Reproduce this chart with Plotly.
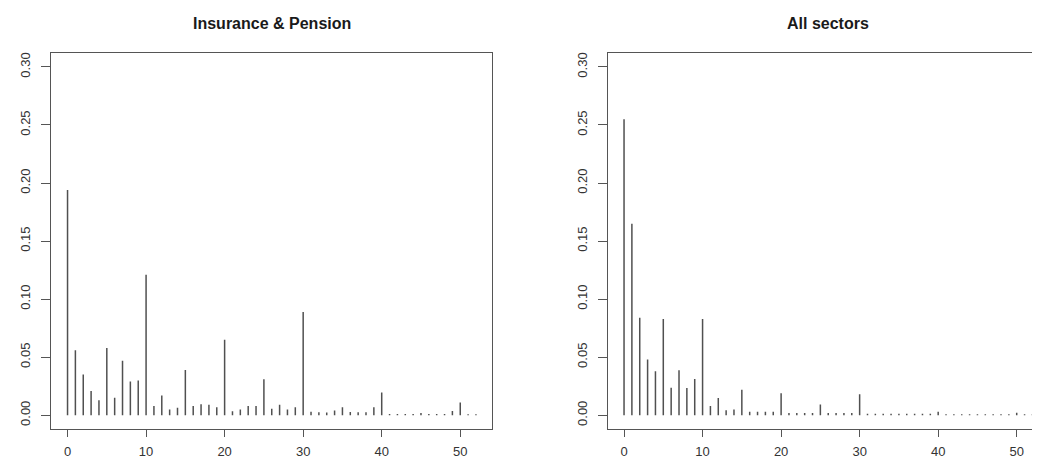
import plotly.graph_objects as go

lags = list(range(53))

insurance_pension = [
    0.194, 0.056, 0.035, 0.021, 0.013, 0.058, 0.015, 0.047, 0.029, 0.030,
    0.121, 0.008, 0.017, 0.005, 0.0065, 0.039, 0.008, 0.0095, 0.009, 0.007,
    0.065, 0.0035, 0.005, 0.008, 0.008, 0.031, 0.0055, 0.009, 0.005, 0.007,
    0.089, 0.003, 0.0026, 0.0023, 0.004, 0.007, 0.0028, 0.0026, 0.0026, 0.0068,
    0.0195, 0.001, 0.001, 0.001, 0.001, 0.002, 0.001, 0.001, 0.001, 0.0037,
    0.011, 0.0008, 0.0008,
]

all_sectors = [
    0.255, 0.165, 0.084, 0.048, 0.038, 0.083, 0.0237, 0.0387, 0.0234, 0.0313,
    0.083, 0.008, 0.0149, 0.0044, 0.005, 0.022, 0.003, 0.003, 0.003, 0.003,
    0.019, 0.002, 0.002, 0.002, 0.002, 0.0092, 0.002, 0.002, 0.002, 0.002,
    0.018, 0.0012, 0.0012, 0.0012, 0.0012, 0.0012, 0.0012, 0.0012, 0.0012, 0.0012,
    0.0031, 0.0008, 0.0008, 0.0008, 0.0008, 0.0008, 0.0008, 0.0008, 0.0008, 0.0008,
    0.0022, 0.0008, 0.0008,
]

titles = ["Insurance & Pension", "All sectors"]
x_ticks = [0, 10, 20, 30, 40, 50]
y_ticks = [0.0, 0.05, 0.10, 0.15, 0.20, 0.25, 0.30]

# page body adds an 8px margin; figure coordinates = screen - 8
OFF = 8
W, H = 1040 - 2 * OFF, 459 - OFF


def spikes(xs, ys):
    px, py = [], []
    for x, y in zip(xs, ys):
        px += [x, x, None]
        py += [0, y, None]
    return px, py


fig = go.Figure()
bar_color = "#505050"
for i, series in enumerate([insurance_pension, all_sectors]):
    px, py = spikes(lags, series)
    fig.add_trace(go.Scatter(
        x=px, y=py, mode="lines",
        line=dict(color=bar_color, width=1.5),
        xaxis="x" if i == 0 else "x2",
        yaxis="y" if i == 0 else "y2",
        hoverinfo="skip", showlegend=False,
    ))

ppx = 7.86  # pixels per lag unit
left_dom = [(51.2 - OFF) / W, (492.3 - OFF) / W]
right_dom = [(607.7 - OFF) / W, 1.0]
right_max = (W + OFF - 623.7) / ppx
y_dom = [1 - (431.0 - OFF) / H, 1 - (52.3 - OFF) / H]

axis_font = dict(family="Liberation Sans, Arial, sans-serif", size=13, color="#333")
line_col = "#555"

common_x = dict(
    tickmode="array", tickvals=x_ticks, ticktext=[str(t) for t in x_ticks],
    ticks="outside", ticklen=7, tickcolor=line_col, tickwidth=1,
    showline=True, linecolor=line_col, linewidth=1, mirror=True,
    showgrid=False, zeroline=False, tickfont=axis_font, ticklabelstandoff=3,
)
common_y = dict(
    tickmode="array", tickvals=y_ticks, ticktext=[f"{t:.2f}" for t in y_ticks],
    ticks="outside", ticklen=9, tickcolor=line_col, tickwidth=1,
    showline=True, linecolor=line_col, linewidth=1,
    showgrid=False, zeroline=False, tickfont=axis_font, tickangle=-90,
    ticklabelstandoff=6,
    range=[-0.012, 0.312], domain=y_dom,
)

fig.update_layout(
    width=W, height=H, autosize=False,
    margin=dict(l=0, r=0, t=0, b=0),
    paper_bgcolor="white", plot_bgcolor="white",
    xaxis=dict(common_x, domain=left_dom, range=[-2.08, 54.08], anchor="y"),
    yaxis=dict(common_y, anchor="x", mirror=True),
    xaxis2=dict(common_x, domain=right_dom, range=[-2.08, right_max], anchor="y2"),
    yaxis2=dict(common_y, anchor="x2", mirror=False),
)

title_font = dict(family="Liberation Sans, Arial, sans-serif", size=16, color="#1a1a1a")
centers = [((51.2 + 492.3) / 2 - OFF) / W, ((607.7 + 1048.8) / 2 - OFF) / W]
for t, cx in zip(titles, centers):
    fig.add_annotation(
        text=f"<b>{t}</b>", x=cx, y=1 - (22.5 - OFF) / H, xref="paper", yref="paper",
        showarrow=False, font=title_font, xanchor="center", yanchor="middle",
    )

fig.write_html("out.html")
